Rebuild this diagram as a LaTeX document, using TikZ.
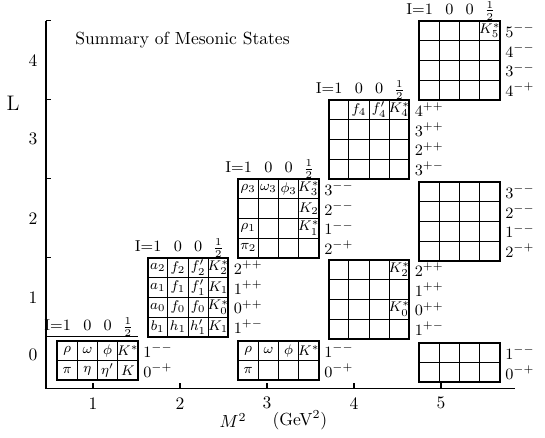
\documentclass[tikz,border=0pt]{standalone}
\usepackage{amssymb}
\usepackage{xcolor}
\usepackage{tikz}
\tikzset{
  mgrid/.style={line width=0.5pt, draw=black},
  mframe/.style={line width=1.1pt, draw=black},
  maxis/.style={line width=0.7pt, draw=black},
  maxlab/.style={inner sep=0pt},
  mcell/.style={font=\footnotesize, inner sep=0pt},
  mjpc/.style={font=\small, anchor=west, inner sep=0pt},
  mhead/.style={font=\small, inner sep=0pt},
}
% isospin header over a block: #1 name prefix, #2 baseline
\newcommand{\isohead}[2]{%
  \node[mhead, anchor=base east] (#1-i1) at (0.7,#2) {I${=}$1};
  \node[mhead, anchor=base] (#1-i0) at (1.5,#2) {0};
  \node[mhead, anchor=base] (#1-s0) at (2.5,#2) {0};
  \node[mhead, anchor=base] (#1-half) at (3.5,#2) {$\frac{1}{2}$};
}

\begin{document}
\begin{tikzpicture}[x=11.51pt, y=11.26pt]
\useasboundingbox (-2.277,-2.481) rectangle (24.703,19.646);
% axes
\coordinate (orig) at (0,0);
\coordinate (ltop) at (0,18.608);
\coordinate (mend) at (23.2,0);
\coordinate (hline) at (4.55,2.608);
\draw[maxis] (ltop) -- (orig) -- (mend);
\foreach \k in {0,...,4} {
  \draw[maxis] (2.327+4.307*\k,0) -- ++(0,0.25);
  \draw[maxis] (0,2.608+4*\k) -- ++(0.25,0);
}
\draw[maxis] (0,2.608) -- (hline);
\foreach \k in {1,...,5}
  \node[maxlab] (m\k) at (4.307*\k-1.98,-0.76) {\k};
\foreach \k in {1,...,4}
  \node[maxlab] (l\k) at (-0.64,0.6+4*\k) {\k};
\node[maxlab] (l0) at (-0.64,1.67) {0};
\node[font=\large] (lname) at (-1.63,14.43) {L};
\node (mname) at (9.26,-1.62) {$M^2$};
\node (gev) at (12.57,-1.62) {(GeV$^2$)};
\node[anchor=west, inner sep=0pt] (title) at (1.44,17.6) {Summary of Mesonic States};

% L = 0
\begin{scope}[shift={(0.55,0.4)}]
\draw[mgrid, step=1] (0,0) grid (4,2);
\draw[mframe] (0,0) rectangle (4,2);
\isohead{a}{2.5}
\node[mcell] (a-rho) at (0.5,1.5) {$\rho$};
\node[mcell] (a-omega) at (1.5,1.5) {$\omega$};
\node[mcell] (a-phi) at (2.5,1.5) {$\phi$};
\node[mcell] (a-kst) at (3.5,1.5) {$K^*$};
\node[mcell] (a-pi) at (0.5,0.5) {$\pi$};
\node[mcell] (a-eta) at (1.5,0.5) {$\eta$};
\node[mcell] (a-etap) at (2.5,0.5) {$\eta'$};
\node[mcell] (a-k) at (3.5,0.5) {$K$};
\node[mjpc] (a-1mm) at (4.25,1.5) {$1^{--}$};
\node[mjpc] (a-0mp) at (4.25,0.5) {$0^{-+}$};
\end{scope}

\begin{scope}[shift={(9.51,0.4)}]
\draw[mgrid, step=1] (0,0) grid (4,2);
\draw[mframe] (0,0) rectangle (4,2);
\node[mcell] (c0-rho) at (0.5,1.5) {$\rho$};
\node[mcell] (c0-omega) at (1.5,1.5) {$\omega$};
\node[mcell] (c0-phi) at (2.5,1.5) {$\phi$};
\node[mcell] (c0-kst) at (3.5,1.5) {$K^*$};
\node[mcell] (c0-pi) at (0.5,0.5) {$\pi$};
\node[mjpc] (c0-1mm) at (4.25,1.5) {$1^{--}$};
\node[mjpc] (c0-0mp) at (4.25,0.5) {$0^{-+}$};
\end{scope}

\begin{scope}[shift={(18.47,0.3)}]
\draw[mgrid, step=1] (0,0) grid (4,2);
\draw[mframe] (0,0) rectangle (4,2);
\node[mjpc] (e0-1mm) at (4.25,1.5) {$1^{--}$};
\node[mjpc] (e0-0mp) at (4.25,0.5) {$0^{-+}$};
\end{scope}

% L = 1
\begin{scope}[shift={(5.03,2.6)}]
\draw[mgrid, step=1] (0,0) grid (4,4);
\draw[mframe] (0,0) rectangle (4,4);
\isohead{b}{4.3}
\node[mcell] (b-a2) at (0.5,3.5) {$a_2$};
\node[mcell] (b-f2) at (1.5,3.5) {$f_2$};
\node[mcell] (b-f2p) at (2.5,3.5) {$f_2'$};
\node[mcell] (b-k2) at (3.5,3.5) {$K_2^*$};
\node[mcell] (b-a1) at (0.5,2.5) {$a_1$};
\node[mcell] (b-f1) at (1.5,2.5) {$f_1$};
\node[mcell] (b-f1p) at (2.5,2.5) {$f_1'$};
\node[mcell] (b-k1) at (3.5,2.5) {$K_1$};
\node[mcell] (b-a0) at (0.5,1.5) {$a_0$};
\node[mcell] (b-f0) at (1.5,1.5) {$f_0$};
\node[mcell] (b-f0b) at (2.5,1.5) {$f_0$};
\node[mcell] (b-k0) at (3.5,1.5) {$K_0^*$};
\node[mcell] (b-b1) at (0.5,0.5) {$b_1$};
\node[mcell] (b-h1) at (1.5,0.5) {$h_1$};
\node[mcell] (b-h1p) at (2.5,0.5) {$h_1'$};
\node[mcell] (b-k1b) at (3.5,0.5) {$K_1$};
\node[mjpc] (b-2pp) at (4.25,3.5) {$2^{++}$};
\node[mjpc] (b-1pp) at (4.25,2.5) {$1^{++}$};
\node[mjpc] (b-0pp) at (4.25,1.5) {$0^{++}$};
\node[mjpc] (b-1pm) at (4.25,0.5) {$1^{+-}$};
\end{scope}

\begin{scope}[shift={(13.99,2.5)}]
\draw[mgrid, step=1] (0,0) grid (4,4);
\draw[mframe] (0,0) rectangle (4,4);
\node[mcell] (d1-k2) at (3.5,3.5) {$K_2^*$};
\node[mcell] (d1-k0) at (3.5,1.5) {$K_0^*$};
\node[mjpc] (d1-2pp) at (4.25,3.5) {$2^{++}$};
\node[mjpc] (d1-1pp) at (4.25,2.5) {$1^{++}$};
\node[mjpc] (d1-0pp) at (4.25,1.5) {$0^{++}$};
\node[mjpc] (d1-1pm) at (4.25,0.5) {$1^{+-}$};
\end{scope}

% L = 2
\begin{scope}[shift={(9.51,6.6)}]
\draw[mgrid, step=1] (0,0) grid (4,4);
\draw[mframe] (0,0) rectangle (4,4);
\isohead{c}{4.3}
\node[mcell] (c-rho3) at (0.5,3.5) {$\rho_3$};
\node[mcell] (c-omega3) at (1.5,3.5) {$\omega_3$};
\node[mcell] (c-phi3) at (2.5,3.5) {$\phi_3$};
\node[mcell] (c-k3) at (3.5,3.5) {$K_3^*$};
\node[mcell] (c-k2) at (3.5,2.5) {$K_2$};
\node[mcell] (c-rho1) at (0.5,1.5) {$\rho_1$};
\node[mcell] (c-k1) at (3.5,1.5) {$K_1^*$};
\node[mcell] (c-pi2) at (0.5,0.5) {$\pi_2$};
\node[mjpc] (c-3mm) at (4.25,3.5) {$3^{--}$};
\node[mjpc] (c-2mm) at (4.25,2.5) {$2^{--}$};
\node[mjpc] (c-1mm) at (4.25,1.5) {$1^{--}$};
\node[mjpc] (c-2mp) at (4.25,0.5) {$2^{-+}$};
\end{scope}

\begin{scope}[shift={(18.47,6.45)}]
\draw[mgrid, step=1] (0,0) grid (4,4);
\draw[mframe] (0,0) rectangle (4,4);
\node[mjpc] (e2-3mm) at (4.25,3.5) {$3^{--}$};
\node[mjpc] (e2-2mm) at (4.25,2.5) {$2^{--}$};
\node[mjpc] (e2-1mm) at (4.25,1.5) {$1^{--}$};
\node[mjpc] (e2-2mp) at (4.25,0.5) {$2^{-+}$};
\end{scope}

% L = 3
\begin{scope}[shift={(13.99,10.6)}]
\draw[mgrid, step=1] (0,0) grid (4,4);
\draw[mframe] (0,0) rectangle (4,4);
\isohead{d}{4.3}
\node[mcell] (d-f4) at (1.5,3.5) {$f_4$};
\node[mcell] (d-f4p) at (2.5,3.5) {$f_4'$};
\node[mcell] (d-k4) at (3.5,3.5) {$K_4^*$};
\node[mjpc] (d-4pp) at (4.25,3.5) {$4^{++}$};
\node[mjpc] (d-3pp) at (4.25,2.5) {$3^{++}$};
\node[mjpc] (d-2pp) at (4.25,1.5) {$2^{++}$};
\node[mjpc] (d-3pm) at (4.25,0.5) {$3^{+-}$};
\end{scope}

% L = 4
\begin{scope}[shift={(18.47,14.6)}]
\draw[mgrid, step=1] (0,0) grid (4,4);
\draw[mframe] (0,0) rectangle (4,4);
\isohead{e}{4.3}
\node[mcell] (e-k5) at (3.5,3.5) {$K_5^*$};
\node[mjpc] (e-5mm) at (4.25,3.5) {$5^{--}$};
\node[mjpc] (e-4mm) at (4.25,2.5) {$4^{--}$};
\node[mjpc] (e-3mm) at (4.25,1.5) {$3^{--}$};
\node[mjpc] (e-4mp) at (4.25,0.5) {$4^{-+}$};
\end{scope}
\end{tikzpicture}
\end{document}
